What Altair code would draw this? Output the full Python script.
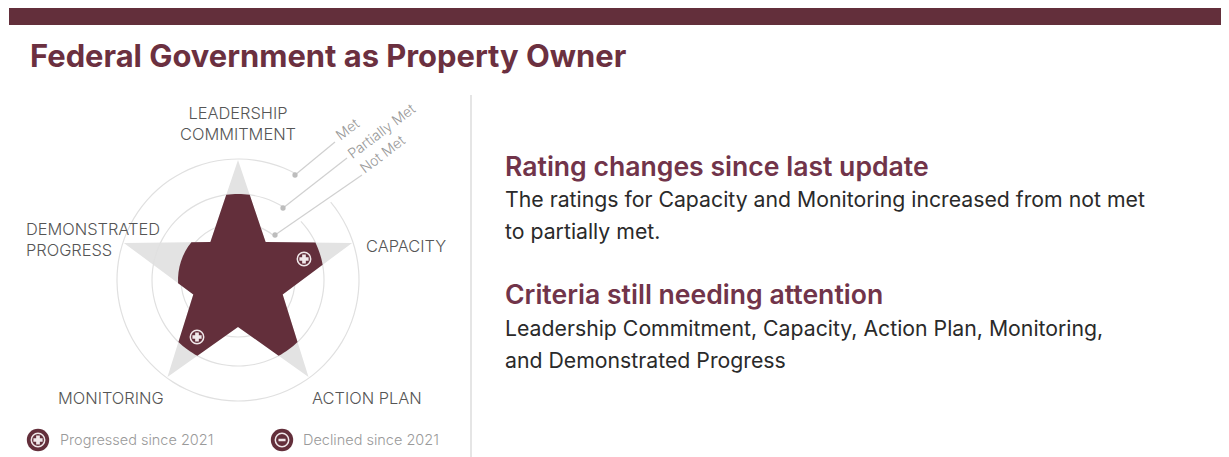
import math
import altair as alt
import pandas as pd

MAROON = "#632f3b"
RING = "#e0e0e0"
GREY_STAR = "#e3e3e3"
FONT = "Inter"

# --- ratings -------------------------------------------------------------
criteria = ["Leadership Commitment", "Capacity", "Action Plan", "Monitoring", "Demonstrated Progress"]
ratings = ["Partially Met", "Partially Met", "Partially Met", "Partially Met", "Not Met"]
level_radius = {"Not Met": 60, "Partially Met": 86, "Met": 120}
star_center = [238, 280]
star_inner = 47

# --- rings: radius, gap start, gap end (degrees clockwise from north)
ring_radius = [121, 86, 57]
ring_gap_start = [29, 32, 40]
ring_gap_end = [50, 47, 70]

# --- leader lines
leader_name = ["Met", "Partially Met", "Not Met"]
leader_dot_x = [295, 283, 275]
leader_dot_y = [175, 208, 235]
leader_end_x = [335, 347, 362]
leader_end_y = [142, 158, 175]
leader_text_x = [348, 382, 383]
leader_text_y = [130, 132, 155]

# --- text
label_text = ["LEADERSHIP", "COMMITMENT", "CAPACITY", "DEMONSTRATED", "PROGRESS", "MONITORING", "ACTION PLAN"]
label_x = [238, 238, 366, 26, 26, 58, 312]
label_y = [114, 135, 247, 230, 251, 399, 399]
label_align = ["center", "center", "left", "left", "left", "left", "left"]

legend_text = ["Progressed since 2021", "Declined since 2021"]
legend_text_x = [60, 303]
legend_icon_x = [38, 282]
legend_y = [440, 440]

badge_x = [304, 197]
badge_y = [259, 337]

head_text = ["Rating changes since last update", "Criteria still needing attention"]
head_y = [168, 296]
body_text = [
    "The ratings for Capacity and Monitoring increased from not met",
    "to partially met.",
    "Leadership Commitment, Capacity, Action Plan, Monitoring,",
    "and Demonstrated Progress",
]
body_y = [201, 233, 330, 362]


def pt(r, deg):
    a = math.radians(deg)
    return [star_center[0] + r * math.sin(a), star_center[1] - r * math.cos(a)]


def star_polygon(radii, tip=120):
    """Star outline; each arm is cut at the radius of its rating."""
    ring = []
    half = math.degrees(math.atan2(
        star_inner * math.sin(math.radians(36)),
        tip - star_inner * math.cos(math.radians(36))))
    for i, r in enumerate(radii):
        c = 72 * i
        ring.append(pt(star_inner, c - 36))
        if r >= tip:
            ring.append(pt(tip, c))
        else:
            beta = math.radians(half)
            gamma = math.asin(min(1, tip * math.sin(beta) / r))
            off = min(math.degrees(gamma) - half, 36)
            for k in range(9):
                ring.append(pt(r, c - off + 2 * off * k / 8))
    ring.append(ring[0])
    return ring


def shape(poly):
    return [{"type": "Feature", "properties": {}, "geometry": {"type": "Polygon", "coordinates": [poly]}}]


X = alt.Scale(domain=[8, 1221], range=[0, 1213])
Y = alt.Scale(domain=[8, 457], range=[0, 449])
xq = lambda f="x": alt.X(f"{f}:Q", scale=X, axis=None)
yq = lambda f="y": alt.Y(f"{f}:Q", scale=Y, axis=None)


def text_layer(df, size, color, weight=400, align="left"):
    return alt.Chart(pd.DataFrame(df)).mark_text(
        font=FONT, fontSize=size, color=color, fontWeight=weight, align=align, baseline="middle"
    ).encode(x=xq(), y=yq(), text="t:N")


proj = dict(type="identity", scale=1, translate=[-8, -8])
tip_poly = star_polygon([120] * 5)
rated_poly = star_polygon([level_radius[r] for r in ratings])

grey_star = alt.Chart(alt.Data(values=shape(tip_poly))).mark_geoshape(
    fill=GREY_STAR, stroke=None).project(**proj)
dark_star = alt.Chart(alt.Data(values=shape(rated_poly))).mark_geoshape(
    fill=MAROON, stroke=None).project(**proj)

arc_rows = []
for r, a, b in zip(ring_radius, ring_gap_start, ring_gap_end):
    arc_rows.append(dict(x=star_center[0], y=star_center[1], r=r + 0.6, r2=r - 0.6,
                         t=math.radians(b), t2=math.radians(a + 360)))
rings = alt.Chart(pd.DataFrame(arc_rows)).mark_arc(color=RING).encode(
    x=xq(), y=yq(),
    radius=alt.Radius("r:Q", scale=None),
    radius2=alt.Radius2("r2:Q"),
    theta=alt.Theta("t:Q", scale=None, stack=None),
    theta2=alt.Theta2("t2:Q"),
)

top_bar = alt.Chart(pd.DataFrame({"x": [9], "x2": [1221], "y": [8], "y2": [25]})).mark_rect(color=MAROON).encode(
    x=xq(), x2="x2:Q", y=yq(), y2="y2:Q")
divider = alt.Chart(pd.DataFrame({"x": [471], "y": [95], "y2": [457]})).mark_rule(color="#dcdcdc", strokeWidth=1.5).encode(
    x=xq(), y=yq(), y2="y2:Q")

leaders = alt.Chart(pd.DataFrame({"x": leader_dot_x, "x2": leader_end_x, "y": leader_dot_y, "y2": leader_end_y})
                    ).mark_rule(color="#d0d0d0", strokeWidth=1.2).encode(x=xq(), x2="x2:Q", y=yq(), y2="y2:Q")
dots = alt.Chart(pd.DataFrame({"x": leader_dot_x, "y": leader_dot_y})).mark_circle(
    color="#bdbdbd", size=28, opacity=1).encode(x=xq(), y=yq())
leader_labels = alt.Chart(pd.DataFrame({"x": leader_text_x, "y": leader_text_y, "t": leader_name})).mark_text(
    font=FONT, fontSize=14, fontWeight=300, color="#999999", angle=323, align="center", baseline="middle"
).encode(x=xq(), y=yq(), text="t:N")

axis_labels = [
    alt.Chart(pd.DataFrame({"x": [x], "y": [y], "t": [t]})).mark_text(
        font=FONT, fontSize=16.4, fontWeight=300, color="#555555", align=al, baseline="middle"
    ).encode(x=xq(), y=yq(), text="t:N")
    for t, x, y, al in zip(label_text, label_x, label_y, label_align)
]

legend_discs = alt.Chart(pd.DataFrame({"x": legend_icon_x, "y": legend_y})).mark_circle(
    color=MAROON, size=500, opacity=1).encode(x=xq(), y=yq())
ring_df = pd.DataFrame({"x": badge_x + legend_icon_x, "y": badge_y + legend_y})
white_rings = alt.Chart(ring_df).mark_point(
    shape="circle", color="#f0e8ea", size=180, strokeWidth=1.5, filled=False, opacity=1).encode(x=xq(), y=yq())
plus_df = pd.DataFrame({"x": badge_x + legend_icon_x[:1], "y": badge_y + legend_y[:1]})
pluses = alt.Chart(plus_df).mark_point(
    shape="cross", color="#f0e8ea", size=85, filled=True, opacity=1, strokeWidth=0).encode(x=xq(), y=yq())
minus = alt.Chart(pd.DataFrame({"x": legend_icon_x[1:], "y": legend_y[1:]})).mark_point(
    shape="stroke", color="#f0e8ea", size=50, strokeWidth=2.5, filled=False, opacity=1).encode(x=xq(), y=yq())

title = text_layer({"x": [30], "y": [58], "t": ["Federal Government as Property Owner"]}, 30.9, "#6b3040", weight=700)
heads = text_layer({"x": [505, 505], "y": head_y, "t": head_text}, 26.6, "#71344a", weight=600)
bodies = text_layer({"x": [505] * 4, "y": body_y, "t": body_text}, 21.25, "#2a2a2a", weight=400)
legend_labels = text_layer({"x": legend_text_x, "y": [441, 441], "t": legend_text}, 14.5, "#9a9a9a", weight=300)

chart = alt.layer(
    grey_star, rings, dark_star, leaders, dots, leader_labels, *axis_labels,
    legend_discs, white_rings, pluses, minus, legend_labels,
    top_bar, divider, title, heads, bodies,
).resolve_scale(x="shared", y="shared").properties(
    width=1213, height=449, padding=0,
    autosize=alt.AutoSizeParams(type="none"),
).configure_view(stroke=None)

chart.save("out.html", embed_options={"renderer": "svg", "actions": False})
